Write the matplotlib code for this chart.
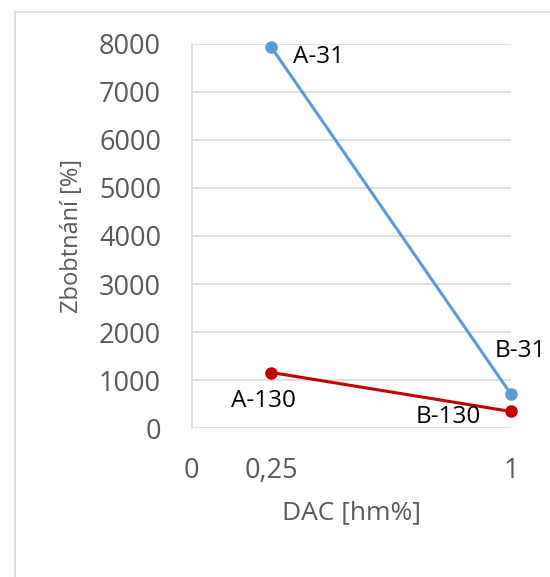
import matplotlib
matplotlib.use("Agg")
import matplotlib.pyplot as plt
from matplotlib.patches import Rectangle

plt.rcParams['font.family'] = ['Open Sans', 'DejaVu Sans']

# data
dac = [0.25, 1.0]
series_31 = [7920, 710]
series_130 = [1160, 350]
labels_31 = ["A-31", "B-31"]
labels_130 = ["A-130", "B-130"]
x_ticks = [0, 0.25, 1]
x_ticklabels = ["0", "0,25", "1"]
y_ticks = [0, 1000, 2000, 3000, 4000, 5000, 6000, 7000, 8000]

grey_txt = '#595959'
grid_c = '#D9D9D9'

fig = plt.figure(figsize=(5.5, 5.77), dpi=100)
ax = fig.add_axes([0.3484, 0.2577, 0.5807, 0.6667])

# chart border (Excel style)
fig.patches.append(Rectangle((15/550, -0.01), 1.0, (577-11.7)/577 + 0.01,
                             transform=fig.transFigure, fill=False,
                             edgecolor=grid_c, linewidth=1.2))

ax.plot(dac, series_31, color='#5B9BD5', lw=2.2, marker='o', ms=8, clip_on=False, zorder=3)
ax.plot(dac, series_130, color='#C00000', lw=2.2, marker='o', ms=8, clip_on=False, zorder=3)

# data labels (offsets in pixels)
offs_31 = [(22, -10, 'left'), (9, 43, 'center')]
offs_130 = [(-8, -28, 'center'), (-63, -6, 'center')]
for x, y, t, (dx, dy, ha) in zip(dac, series_31, labels_31, offs_31):
    ax.annotate(t, (x, y), xytext=(dx, dy), textcoords='offset pixels',
                ha=ha, va='center', fontsize=17.5, color='black')
for x, y, t, (dx, dy, ha) in zip(dac, series_130, labels_130, offs_130):
    ax.annotate(t, (x, y), xytext=(dx, dy), textcoords='offset pixels',
                ha=ha, va='center', fontsize=17.5, color='black')

ax.set_xlim(0, 1)
ax.set_ylim(0, 8000)
ax.set_xticks(x_ticks)
ax.set_xticklabels(x_ticklabels)
ax.set_yticks(y_ticks)
ax.tick_params(axis='both', length=0, labelsize=19.5, labelcolor=grey_txt)
ax.tick_params(axis='x', pad=21)
ax.tick_params(axis='y', pad=22)

ax.grid(axis='y', color=grid_c, lw=1.2)
ax.set_axisbelow(True)
for s in ['top', 'right', 'bottom']:
    ax.spines[s].set_visible(False)
ax.spines['left'].set_color(grid_c)
ax.spines['left'].set_linewidth(1.2)

ax.set_xlabel("DAC [hm%]", fontsize=19, color=grey_txt, va='center')
ax.set_ylabel("Zbobtnání [%]", fontsize=17, color=grey_txt, va='center')
ax.xaxis.set_label_coords(0.5, -0.22)
ax.yaxis.set_label_coords(-0.375, 0.5)

fig.savefig("out.png", dpi=100)
